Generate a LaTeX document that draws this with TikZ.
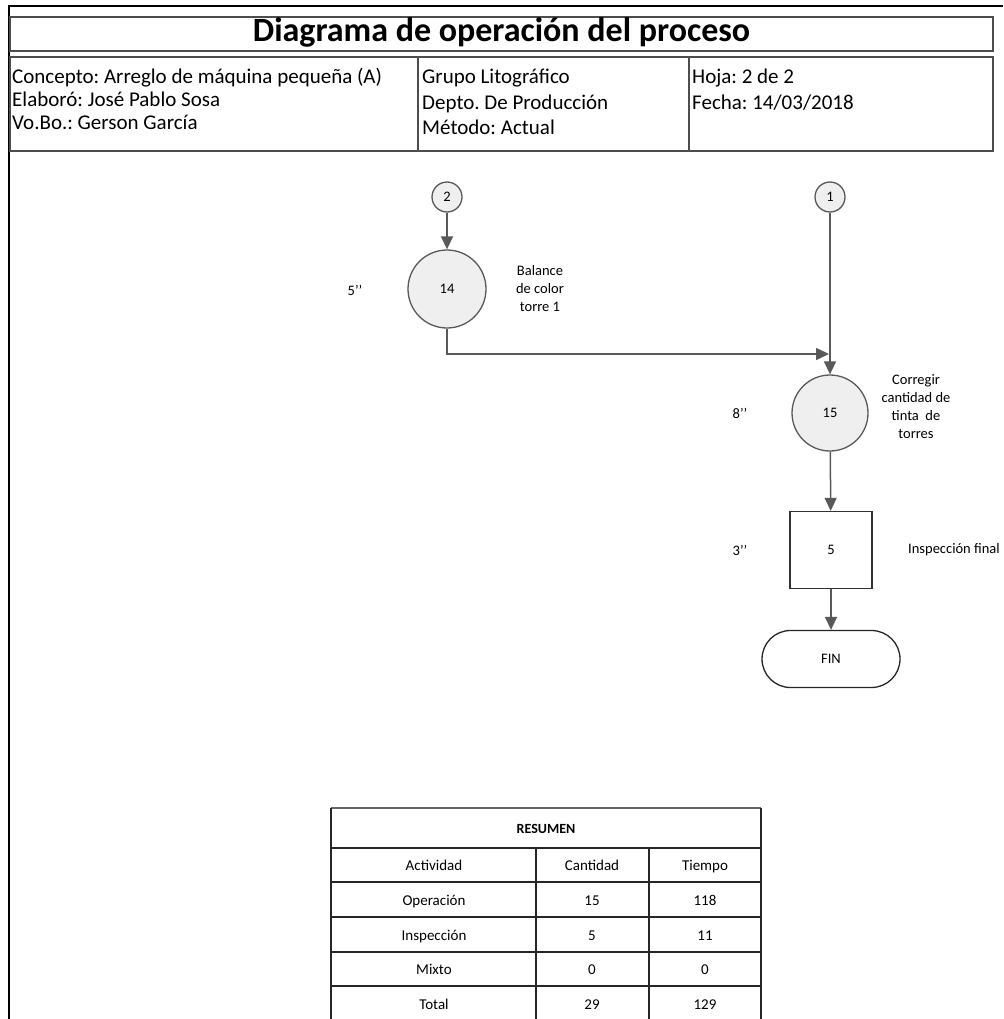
\documentclass[tikz,border=0pt]{standalone}
\usepackage{fontspec}
\setmainfont{Carlito}
\usetikzlibrary{arrows.meta,shapes.misc}
\frenchspacing

\definecolor{edge}{HTML}{595959}
\definecolor{boxedge}{HTML}{4D4D4D}
\definecolor{bubble}{HTML}{EFEFEF}

\tikzset{
  frameline/.style={line width=2.2pt, black},
  boxline/.style={line width=1.6pt, boxedge},
  tabline/.style={line width=1.6pt, black!85},
  flow/.style={line width=1.5pt, edge, -{Triangle[length=13pt,width=12pt]}},
  opcircle/.style={circle, draw=edge, line width=1.3pt, fill=bubble, inner sep=0pt,
    font=\fontsize{14.5}{17}\selectfont},
  inspbox/.style={rectangle, draw=black!80, line width=1.3pt, fill=white, inner sep=0pt,
    minimum width=82pt, minimum height=77pt, font=\fontsize{14.5}{17}\selectfont},
  terminal/.style={rounded rectangle, draw=black!85, line width=1.3pt, fill=white, inner sep=0pt,
    minimum width=138pt, minimum height=57pt, font=\fontsize{14.5}{17}\selectfont},
  lbl/.style={inner sep=0pt, font=\fontsize{14.5}{18}\selectfont, align=center},
  hdr/.style={inner sep=0pt, anchor=base west, font=\fontsize{21}{24}\selectfont},
  cell/.style={inner sep=0pt, anchor=base, font=\fontsize{15}{18}\selectfont},
}

\begin{document}
\begin{tikzpicture}[x=1pt, y=-1pt]
\useasboundingbox (0,0) rectangle (1003,1019);
\begin{scope}
\clip (0,0) rectangle (1003,1019);

% page frame
\draw[frameline] (8,6) -- (1003,6);
\draw[frameline] (9,6) -- (9,1019);

% title block
\draw[boxline] (10,17) rectangle (993,51);
\node[inner sep=0pt, anchor=base, font=\fontsize{34}{38}\selectfont\bfseries] (title)
  at (501.5,42) {Diagrama de operación del proceso};

\draw[boxline] (10,57) rectangle (993,151);
\draw[boxline] (418,57) -- (418,151);
\draw[boxline] (689,57) -- (689,151);

\node[hdr] (concepto) at (12,84)  {Concepto: Arreglo de máquina pequeña (A)};
\node[hdr] (elaboro)  at (12,107) {Elaboró: José Pablo Sosa};
\node[hdr] (vobo)     at (12,130) {Vo.Bo.: Gerson García};

\node[hdr] (grupo)  at (422,84)    {Grupo Litográfico};
\node[hdr] (depto)  at (422,109.5) {Depto. De Producción};
\node[hdr] (metodo) at (422,135)   {Método: Actual};

\node[hdr] (hoja)  at (692,84)    {Hoja: 2 de 2};
\node[hdr] (fecha) at (692,109.5) {Fecha: 14/03/2018};

% process flow
\node[opcircle, minimum size=30pt] (c2)  at (447,197) {2};
\node[opcircle, minimum size=78pt] (c14) at (447,289) {14};
\node[opcircle, minimum size=30pt] (c1)  at (830,197) {1};
\node[opcircle, minimum size=76pt] (c15) at (830,413) {15};
\node[inspbox] (i5) at (831,550) {5};
\node[terminal] (fin) at (831,659) {FIN};
\coordinate (join) at (829,354);

\draw[flow] (c2) -- (c14);
\draw[flow] (c14.south) |- (join);
\draw[flow] (c1) -- (c15);
\draw[flow] (c15) -- (i5);
\draw[flow] (i5) -- (fin);

% times and descriptions
\node[lbl] (t14) at (355,290) {5’’};
\node[lbl] (d14) at (540,289) {Balance\\de color\\torre 1};
\node[lbl] (t15) at (740,413) {8’’};
\node[lbl] (d15) at (916,407) {Corregir\\cantidad de\\tinta\ \ de\\torres};
\node[lbl] (t5)  at (740,550) {3’’};
\node[lbl, anchor=west] (d5) at (908,550) {Inspección final};

% summary table
\draw[tabline, draw=black!60] (331,808) -- (761,808);
\draw[tabline] (331,808) -- (331,1025);
\draw[tabline] (761,808) -- (761,1025);
\foreach \yy in {848,882,917,952,986}
  \draw[tabline] (331,\yy) -- (761,\yy);
\draw[tabline] (536,848) -- (536,1025);
\draw[tabline] (649,848) -- (649,1025);

\node[cell, font=\fontsize{14}{17}\selectfont\bfseries] (resumen) at (546,833) {RESUMEN};
\node[cell] (h1) at (434,870) {Actividad};
\node[cell] (h2) at (592,870) {Cantidad};
\node[cell] (h3) at (705,870) {Tiempo};

\node[cell] (r1a) at (434,905) {Operación};
\node[cell] (r1b) at (592,905) {15};
\node[cell] (r1c) at (705,905) {118};

\node[cell] (r2a) at (434,940) {Inspección};
\node[cell] (r2b) at (592,940) {5};
\node[cell] (r2c) at (705,940) {11};

\node[cell] (r3a) at (434,974) {Mixto};
\node[cell] (r3b) at (592,974) {0};
\node[cell] (r3c) at (705,974) {0};

\node[cell] (r4a) at (434,1009) {Total};
\node[cell] (r4b) at (592,1009) {29};
\node[cell] (r4c) at (705,1009) {129};
\end{scope}
\end{tikzpicture}
\end{document}
